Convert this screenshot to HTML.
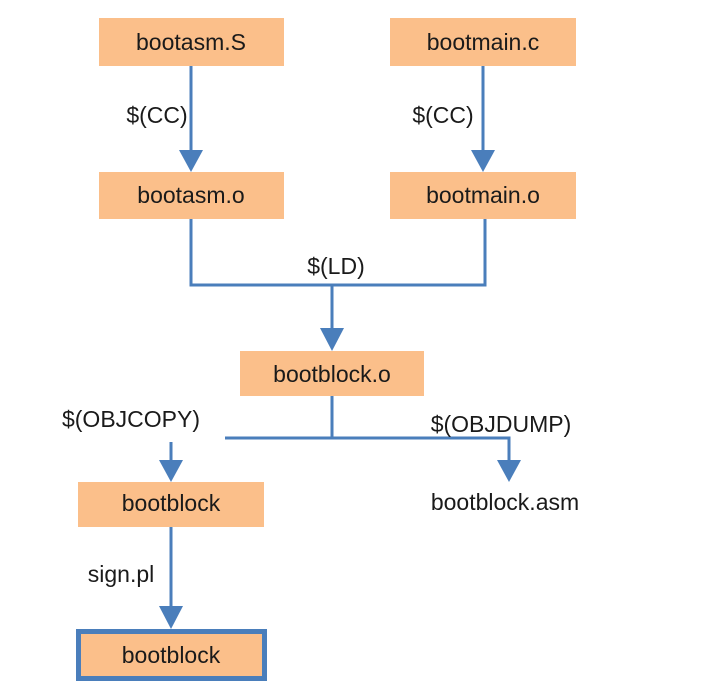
<!DOCTYPE html>
<html><head><meta charset="utf-8"><style>
html,body{margin:0;padding:0;background:#fff;}
svg{display:block;}
text{font-family:"Liberation Sans",sans-serif;font-size:23px;fill:#1a1a1a;}
</style></head><body>
<svg width="706" height="699" viewBox="0 0 706 699" xmlns="http://www.w3.org/2000/svg">
<g fill="#fbbf8a">
<rect x="99" y="18" width="185" height="48"/>
<rect x="390" y="18" width="186" height="48"/>
<rect x="99" y="172" width="185" height="47"/>
<rect x="390" y="172" width="186" height="47"/>
<rect x="240" y="351" width="184" height="45"/>
<rect x="78" y="482" width="186" height="45"/>
<rect x="79" y="632" width="184" height="45"/>
</g>
<rect x="78.5" y="631.5" width="186" height="47" fill="none" stroke="#4a7ebb" stroke-width="5"/>
<g stroke="#4a7ebb" stroke-width="3" fill="none">
<path d="M191 66 V152"/>
<path d="M483 66 V152"/>
<path d="M191 219 V285 H485 V219"/>
<path d="M332 285 V330"/>
<path d="M332 396 V438"/>
<path d="M225 438 H509 V462"/>
<path d="M171 442 V462"/>
<path d="M171 527 V608"/>
</g>
<g fill="#4a7ebb">
<polygon points="179,150 203,150 191,172"/>
<polygon points="471,150 495,150 483,172"/>
<polygon points="320,328 344,328 332,351"/>
<polygon points="497,460 521,460 509,482"/>
<polygon points="159,460 183,460 171,482"/>
<polygon points="159,606 183,606 171,629"/>
</g>
<g text-anchor="middle">
<text x="191" y="50">bootasm.S</text>
<text x="483" y="50">bootmain.c</text>
<text x="191" y="203">bootasm.o</text>
<text x="483" y="203">bootmain.o</text>
<text x="332" y="382">bootblock.o</text>
<text x="171" y="511">bootblock</text>
<text x="171" y="663">bootblock</text>
<text x="505" y="510">bootblock.asm</text>
<text x="157" y="123">$(CC)</text>
<text x="443" y="123">$(CC)</text>
<text x="336" y="274">$(LD)</text>
<text x="131" y="427">$(OBJCOPY)</text>
<text x="501" y="432">$(OBJDUMP)</text>
<text x="121" y="582">sign.pl</text>
</g>
</svg>
</body></html>
